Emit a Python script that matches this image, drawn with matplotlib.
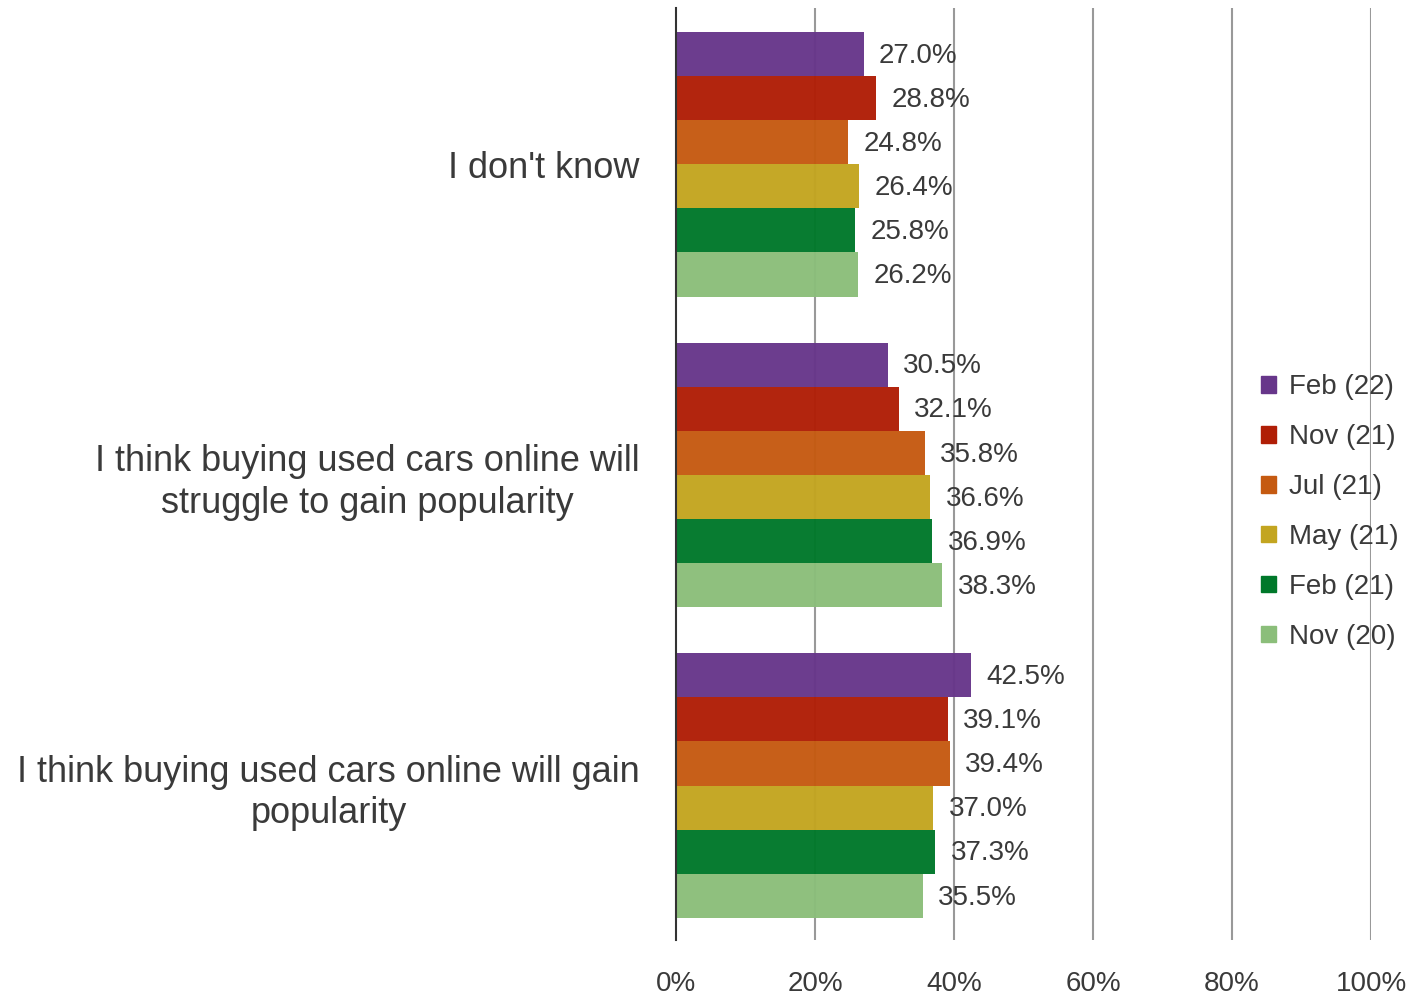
import matplotlib
matplotlib.use("Agg")
import matplotlib.pyplot as plt
import numpy as np

plt.rcParams['font.family'] = ['Liberation Sans', 'DejaVu Sans']

categories = ["I don't know",
              "I think buying used cars online will\nstruggle to gain popularity",
              "I think buying used cars online will gain\npopularity"]
series = ["Feb (22)", "Nov (21)", "Jul (21)", "May (21)", "Feb (21)", "Nov (20)"]
values = {
    "Feb (22)": [27.0, 30.5, 42.5],
    "Nov (21)": [28.8, 32.1, 39.1],
    "Jul (21)": [24.8, 35.8, 39.4],
    "May (21)": [26.4, 36.6, 37.0],
    "Feb (21)": [25.8, 36.9, 37.3],
    "Nov (20)": [26.2, 38.3, 35.5],
}
colors = ["#67368A", "#B01E06", "#C55A11", "#C3A520", "#00782A", "#8BBE7A"]
xticks = [0, 20, 40, 60, 80, 100]
xticklabels = ["0%", "20%", "40%", "60%", "80%", "100%"]

txt = "#3A3A3A"
fig = plt.figure(figsize=(14.22, 9.98), dpi=100)
ax = fig.add_axes([676/1422, 1-940/998, (1371-676)/1422, (940-8)/998])

n = len(series)
bh = 0.142
centers = np.arange(len(categories))
for i, (s, c) in enumerate(zip(series, colors)):
    y = centers - (n/2 - 0.5 - i) * bh
    ax.barh(y, values[s], height=bh, color=c, alpha=0.97, zorder=2)
    for yy, v in zip(y, values[s]):
        ax.annotate(f"{v:.1f}%", (v, yy), xytext=(11, -1.2), textcoords="offset points",
                    va="center", ha="left", fontsize=20, color=txt, zorder=4)

ax.set_xlim(0, 100)
ax.set_ylim(2.497, -0.503)
ax.set_yticks(centers)
ax.set_yticklabels(categories, fontsize=26, color=txt, ha="right", multialignment="center",
                   linespacing=1.25)
ax.tick_params(axis='y', length=0, pad=26)
ax.set_xticks(xticks)
ax.set_xticklabels(xticklabels, fontsize=20, color=txt)
ax.tick_params(axis='x', length=0, pad=22)
for x in xticks[1:]:
    ax.axvline(x, color="#999999", lw=1.5, zorder=1)
for sp in ["top", "right", "bottom"]:
    ax.spines[sp].set_visible(False)
ax.spines["left"].set_color("#333333")
ax.spines["left"].set_linewidth(1.5)
ax.spines["left"].set_zorder(5)

handles = [plt.Rectangle((0, 0), 1, 1, color=c) for c in colors]
leg = fig.legend(handles, series, loc="center left", bbox_to_anchor=(1250/1422, 1-512/998),
                 borderaxespad=0, frameon=False, fontsize=20, handlelength=0.55, handleheight=0.55,
                 labelspacing=0.86, handletextpad=0.45, labelcolor=txt)

fig.savefig("out.png", dpi=100)
